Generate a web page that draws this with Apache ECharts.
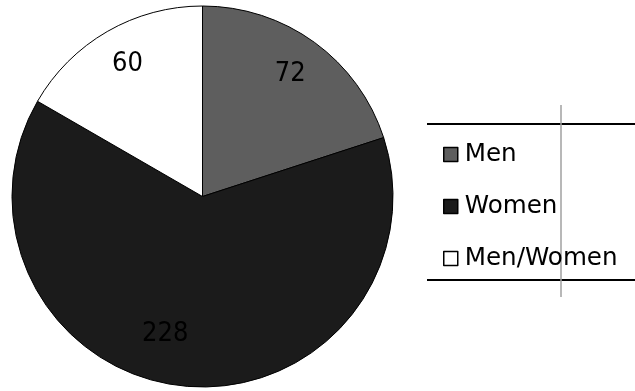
<!DOCTYPE html>
<html>
<head>
<meta charset="utf-8">
<script src="https://cdn.jsdelivr.net/npm/echarts@6/dist/echarts.min.js"></script>
<style>
html,body{margin:0;padding:0;background:#fff;}
#c{width:635px;height:391px;}
</style>
</head>
<body>
<div id="c"></div>
<script>
var categories = ['Men', 'Women', 'Men/Women'];
var values = [72, 228, 60];
var sliceColors = ['#5e5e5e', '#1b1b1b', '#ffffff'];
var labelOffsets = [[30, -43], [-27, 40], [-26, -47]];

var chart = echarts.init(document.getElementById('c'), null, {renderer: 'canvas'});
var data = categories.map(function (name, i) {
  return {
    name: name,
    value: values[i],
    itemStyle: {color: sliceColors[i]},
    label: {offset: labelOffsets[i]}
  };
});
chart.setOption({
  animation: false,
  backgroundColor: '#ffffff',
  legend: {
    orient: 'vertical',
    left: 443,
    top: 142,
    padding: 0,
    itemWidth: 14,
    itemHeight: 14,
    itemGap: 27,
    icon: 'rect',
    itemStyle: {borderColor: '#000', borderWidth: 1.5},
    textStyle: {fontFamily: 'DejaVu Sans', fontSize: 24.6, color: '#000', lineHeight: 24, padding: [0, 0, 0, 2]},
    data: categories
  },
  graphic: [
    {type: 'line', shape: {x1: 427, y1: 124, x2: 635, y2: 124}, style: {stroke: '#000', lineWidth: 2}},
    {type: 'line', shape: {x1: 427, y1: 280, x2: 635, y2: 280}, style: {stroke: '#000', lineWidth: 2}},
    {type: 'line', shape: {x1: 561, y1: 105, x2: 561, y2: 297}, style: {stroke: '#a0a0a0', lineWidth: 1.5}}
  ],
  series: [{
    type: 'pie',
    center: [202.5, 196.5],
    radius: [0, 190.5],
    startAngle: 90,
    clockwise: true,
    avoidLabelOverlap: false,
    itemStyle: {borderColor: '#000', borderWidth: 1},
    label: {
      show: true,
      position: 'inside',
      formatter: '{c}',
      color: '#000',
      fontFamily: '"DejaVu Sans Condensed", "Liberation Sans", sans-serif',
      fontSize: 27
    },
    labelLine: {show: false},
    emphasis: {disabled: true},
    data: data
  }]
});
</script>
</body>
</html>
